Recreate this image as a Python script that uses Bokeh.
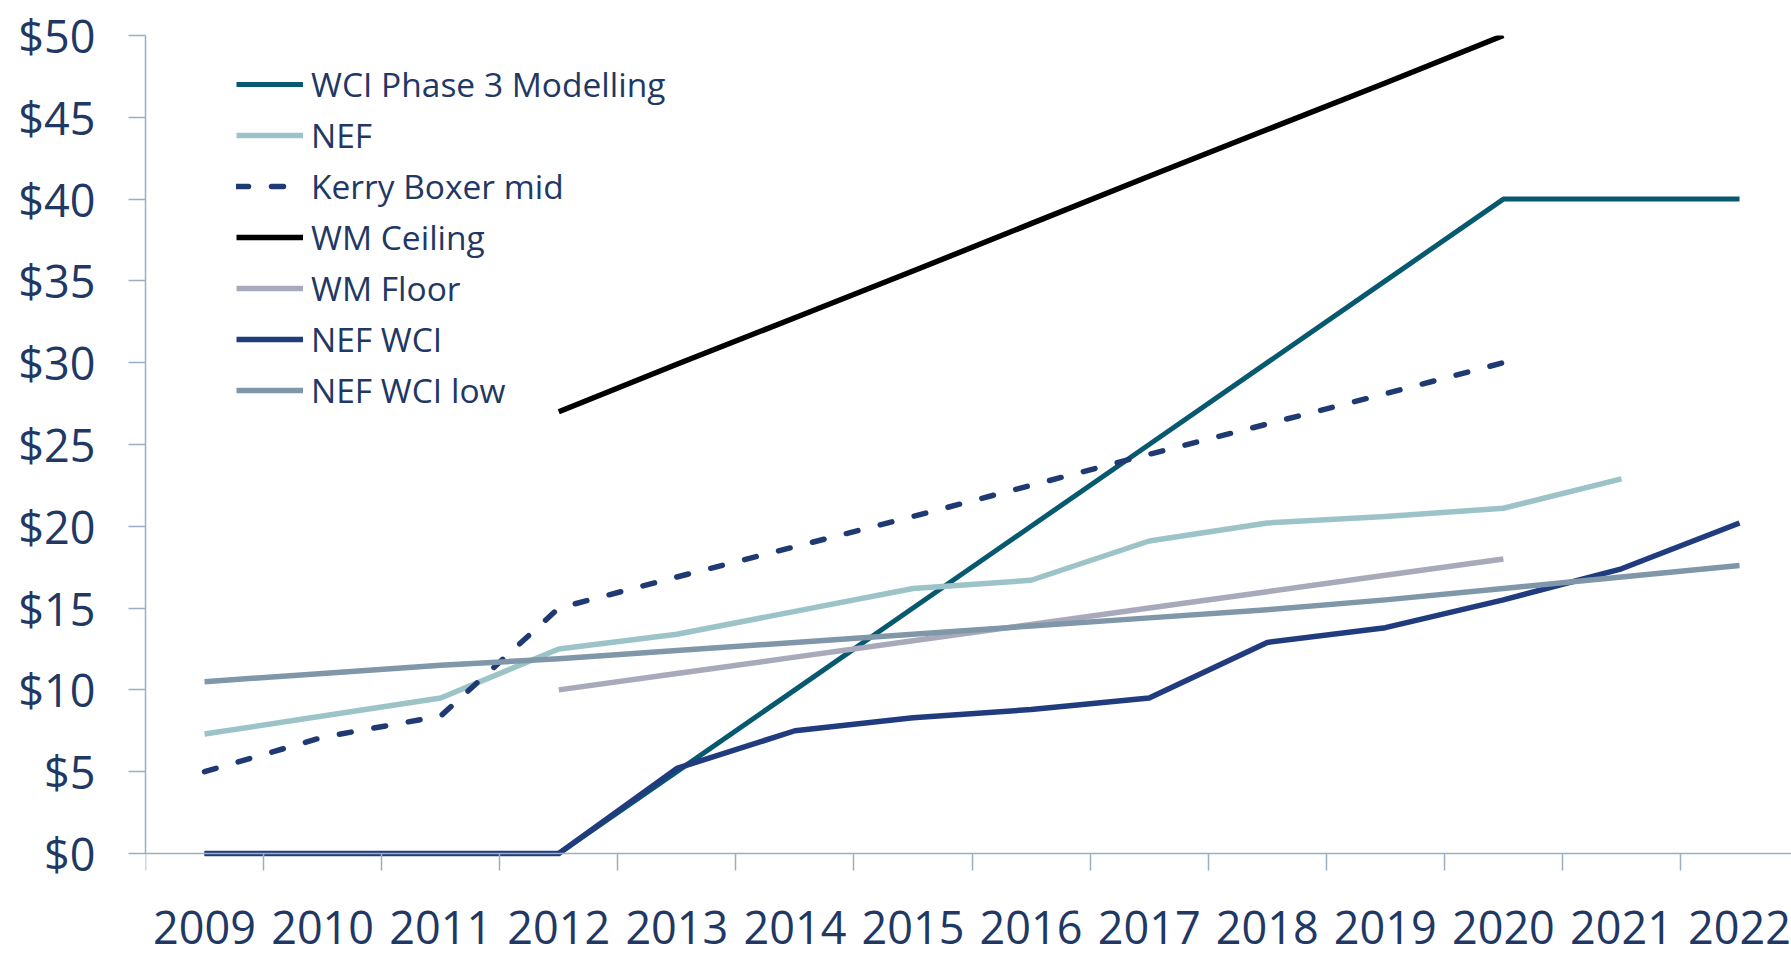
from bokeh.plotting import figure
from bokeh.models import Range1d, FixedTicker, NumeralTickFormatter, Legend, LegendItem
from bokeh.embed import file_html
from bokeh.resources import INLINE

years = ["2009", "2010", "2011", "2012", "2013", "2014", "2015",
         "2016", "2017", "2018", "2019", "2020", "2021", "2022"]
wci_phase3 = [0, 0, 0, 0, 5, 10, 15, 20, 25, 30, 35, 40, 40, 40]
nef = [7.3, 8.4, 9.5, 12.5, 13.4, 14.8, 16.2, 16.7, 19.1, 20.2, 20.6, 21.1, 22.9, None]
kerry_boxer_mid = [5.0, 7.1, 8.4, 15.0, 16.9, 18.75, 20.6, 22.5, 24.4, 26.25, 28.1, 30.0, None, None]
wm_ceiling = [None, None, None, 27.0, 29.9, 32.75, 35.6, 38.5, 41.4, 44.25, 47.1, 50.0, None, None]
wm_floor = [None, None, None, 10, 11, 12, 13, 14, 15, 16, 17, 18, None, None]
nef_wci = [0, 0, 0, 0, 5.2, 7.5, 8.3, 8.8, 9.5, 12.9, 13.8, 15.5, 17.4, 20.2]
nef_wci_low = [10.5, 11.0, 11.5, 11.9, 12.4, 12.9, 13.4, 13.9, 14.4, 14.9, 15.5, 16.2, 16.9, 17.6]
y_ticks = [0, 5, 10, 15, 20, 25, 30, 35, 40, 45, 50]

series = [
    ("WCI Phase 3 Modelling", wci_phase3, "#07596F", 5.0, "solid"),
    ("NEF", nef, "#9CC4C8", 5.5, "solid"),
    ("Kerry Boxer mid", kerry_boxer_mid, "#1F3A72", 5.5, "12 23"),
    ("WM Ceiling", wm_ceiling, "#000000", 5.5, "solid"),
    ("WM Floor", wm_floor, "#A8A9BA", 5.5, "solid"),
    ("NEF WCI", nef_wci, "#203C7E", 5.5, "solid"),
    ("NEF WCI low", nef_wci_low, "#7F97A8", 5.5, "solid"),
]

FONT = "Open Sans"
TXT = "#1F3864"
AXC = "#9DAEC2"

n = len(years)
centers = [i + 0.5 for i in range(n)]

p = figure(width=1791, height=956, output_backend="svg", toolbar_location=None,
           x_range=Range1d(0, 13.94), y_range=Range1d(-6.3, 50),
           min_border_left=145, min_border_right=0, min_border_top=35, min_border_bottom=0)
p.background_fill_color = "white"
p.border_fill_color = "white"
p.outline_line_color = None
p.xgrid.visible = False
p.ygrid.visible = False

items = []
for name, vals, color, width, dash in series:
    xs = [x for x, v in zip(centers, vals) if v is not None]
    ys = [v for v in vals if v is not None]
    r = p.line(xs, ys, line_color=color, line_width=width, line_dash=dash,
               line_cap="round" if dash != "solid" else "butt", line_join="round")
    items.append(LegendItem(label=name, renderers=[r]))

# x axis, placed at y = 0
xa = p.xaxis[0]
xa.fixed_location = 0
xa.ticker = FixedTicker(ticks=centers, minor_ticks=list(range(0, n + 1)))
xa.major_label_overrides = {c: y for c, y in zip(centers, years)}
xa.major_tick_out = 0
xa.major_tick_in = 0
xa.minor_tick_out = 17
xa.minor_tick_in = 0
xa.axis_line_color = AXC
xa.axis_line_width = 1.5
xa.minor_tick_line_color = AXC
xa.minor_tick_line_width = 1.5
xa.major_label_text_font = FONT
xa.major_label_text_font_size = "45px"
xa.major_label_text_color = TXT
xa.major_label_standoff = 41

# y axis
ya = p.yaxis[0]
ya.bounds = (0, 50)
ya.ticker = FixedTicker(ticks=y_ticks, minor_ticks=[])
ya.formatter = NumeralTickFormatter(format="$0")
ya.major_tick_out = 17
ya.major_tick_in = 0
ya.minor_tick_out = 0
ya.minor_tick_in = 0
ya.axis_line_color = AXC
ya.axis_line_width = 1.5
ya.major_tick_line_color = AXC
ya.major_tick_line_width = 1.5
ya.major_label_text_font = FONT
ya.major_label_text_font_size = "45px"
ya.major_label_text_color = TXT
ya.major_label_standoff = 33

legend = Legend(items=items, location=(91, 543))
legend.label_text_font = FONT
legend.label_text_font_size = "33.5px"
legend.label_text_color = TXT
legend.glyph_width = 67
legend.glyph_height = 44
legend.label_height = 44
legend.label_standoff = 8
legend.spacing = 5
legend.padding = 0
legend.margin = 0
legend.border_line_color = None
legend.background_fill_alpha = 0
p.add_layout(legend)

open("out.html", "w").write(file_html(p, INLINE))
